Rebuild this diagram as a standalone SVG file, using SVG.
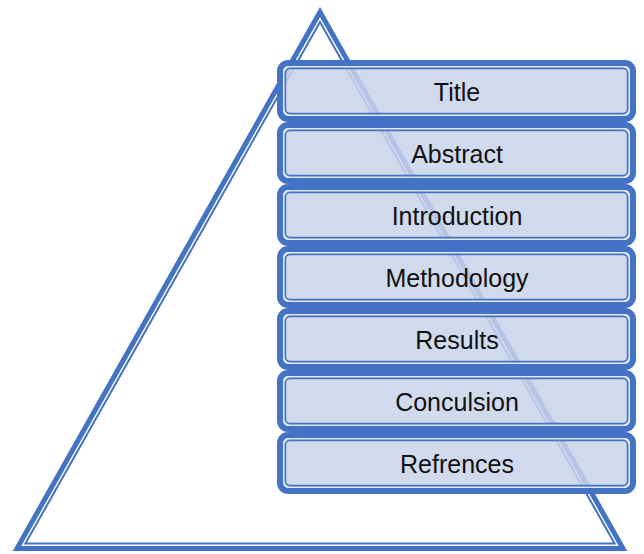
<svg xmlns="http://www.w3.org/2000/svg" width="644" height="554" viewBox="0 0 644 554">
<style>
.tri-thick{fill:none;stroke:#4472C4;stroke-width:5;stroke-linejoin:miter}
.tri-thin{fill:none;stroke:#4472C4;stroke-width:2;stroke-linejoin:miter}
.box{fill:#C9D3EA;fill-opacity:0.86;stroke:#4472C4;stroke-width:6}
.hl{fill:none;stroke:#E2E8F5;stroke-width:1.6}
.in{fill:none;stroke:#4472C4;stroke-width:1.6}
.lbl{font-family:"Liberation Sans",Arial,sans-serif;font-size:25px;fill:#111;text-anchor:middle}
</style>
<rect width="644" height="554" fill="#ffffff"/>
<g id="pyramid">
<polygon class="tri-thick" points="320,12 17,548.5 623,548.5"/>
<polygon class="tri-thin" points="320,22 25.4,543.5 614.6,543.5"/>
</g>
<g id="connectors"></g>
<g id="title">
<rect class="box" x="280" y="63" width="353" height="56" rx="8"/>
<rect class="hl" x="283.8" y="66.8" width="345.4" height="48.4" rx="5.5"/>
<rect class="in" x="285.4" y="68.4" width="342.2" height="45.2" rx="4.5"/>
<text class="lbl" x="457" y="101">Title</text>
</g>
<g id="abstract">
<rect class="box" x="280" y="125" width="353" height="56" rx="8"/>
<rect class="hl" x="283.8" y="128.8" width="345.4" height="48.4" rx="5.5"/>
<rect class="in" x="285.4" y="130.4" width="342.2" height="45.2" rx="4.5"/>
<text class="lbl" x="457" y="163">Abstract</text>
</g>
<g id="introduction">
<rect class="box" x="280" y="187" width="353" height="56" rx="8"/>
<rect class="hl" x="283.8" y="190.8" width="345.4" height="48.4" rx="5.5"/>
<rect class="in" x="285.4" y="192.4" width="342.2" height="45.2" rx="4.5"/>
<text class="lbl" x="457" y="225">Introduction</text>
</g>
<g id="methodology">
<rect class="box" x="280" y="249" width="353" height="56" rx="8"/>
<rect class="hl" x="283.8" y="252.8" width="345.4" height="48.4" rx="5.5"/>
<rect class="in" x="285.4" y="254.4" width="342.2" height="45.2" rx="4.5"/>
<text class="lbl" x="457" y="287">Methodology</text>
</g>
<g id="results">
<rect class="box" x="280" y="311" width="353" height="56" rx="8"/>
<rect class="hl" x="283.8" y="314.8" width="345.4" height="48.4" rx="5.5"/>
<rect class="in" x="285.4" y="316.4" width="342.2" height="45.2" rx="4.5"/>
<text class="lbl" x="457" y="349">Results</text>
</g>
<g id="conclusion">
<rect class="box" x="280" y="373" width="353" height="56" rx="8"/>
<rect class="hl" x="283.8" y="376.8" width="345.4" height="48.4" rx="5.5"/>
<rect class="in" x="285.4" y="378.4" width="342.2" height="45.2" rx="4.5"/>
<text class="lbl" x="457" y="411">Conculsion</text>
</g>
<g id="references">
<rect class="box" x="280" y="435" width="353" height="56" rx="8"/>
<rect class="hl" x="283.8" y="438.8" width="345.4" height="48.4" rx="5.5"/>
<rect class="in" x="285.4" y="440.4" width="342.2" height="45.2" rx="4.5"/>
<text class="lbl" x="457" y="473">Refrences</text>
</g>
</svg>
